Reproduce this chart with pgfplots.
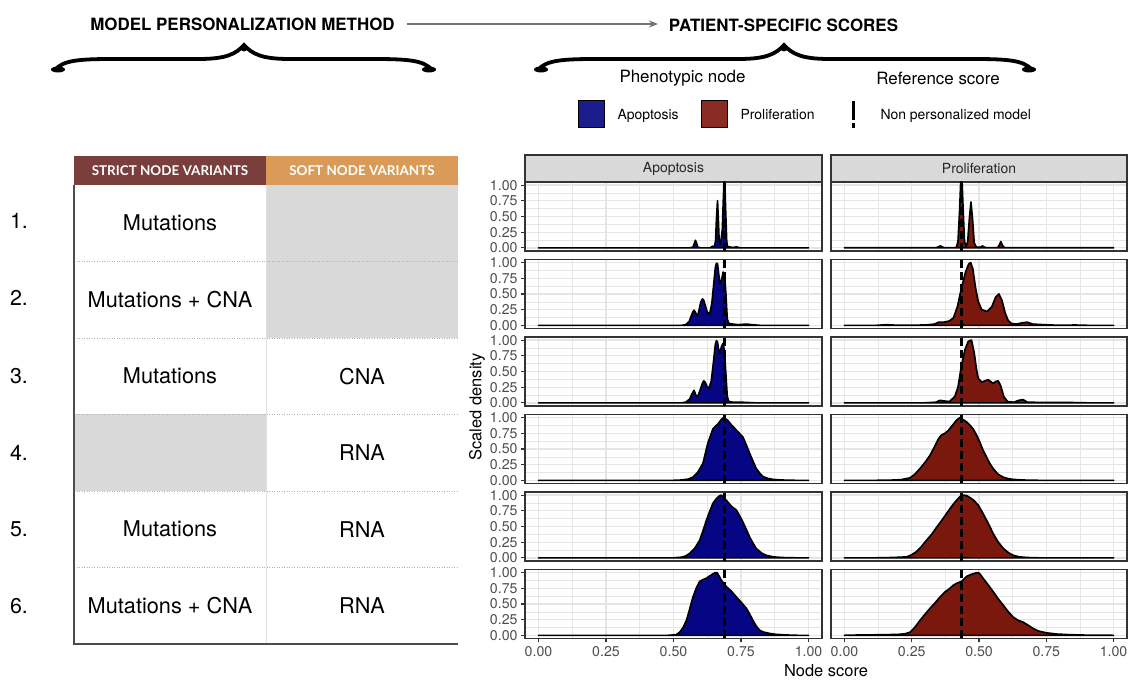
\documentclass[border=0pt]{standalone}
\usepackage{pgfplots}
\pgfplotsset{compat=1.18}
\usepackage{fontspec}
\setmainfont{TeX Gyre Heros}
\newfontfamily\hdrfont{Lato}
\usetikzlibrary{arrows.meta}

\definecolor{apo}{RGB}{6,6,132}
\definecolor{pro}{RGB}{122,24,14}
\definecolor{apoKey}{RGB}{28,28,142}
\definecolor{proKey}{RGB}{139,44,36}
\definecolor{gtwenty}{RGB}{51,51,51}
\definecolor{gthirty}{RGB}{77,77,77}
\definecolor{stripbg}{RGB}{217,217,217}
\definecolor{gridc}{RGB}{229,229,229}
\definecolor{strictc}{RGB}{122,62,60}
\definecolor{softc}{RGB}{218,155,88}
\definecolor{cellgray}{RGB}{217,217,217}

\pgfplotsset{
 panel/.style={
  scale only axis, height=69bp, anchor=north west,
  xmin=-0.05,xmax=1.05,ymin=-0.05,ymax=1.05,
  xtick={0,0.25,0.5,0.75,1}, ytick={0,0.25,0.5,0.75,1},
  minor xtick={0.125,0.375,0.625,0.875}, minor ytick={0.125,0.375,0.625,0.875},
  grid=both,
  major grid style={draw=gridc,line width=1.3bp},
  minor grid style={draw=gridc,line width=0.65bp},
  axis line style={draw=gtwenty,line width=1.3bp},
  tick align=outside, major tick length=4bp, minor tick length=0pt,
  tick style={draw=gtwenty,line width=1.1bp},
  tick pos=left,
  xticklabels={}, yticklabels={},
  xmajorticks=false, ymajorticks=false,
  ticklabel style={font=\fontsize{14.2}{15}\selectfont, text=gthirty},
 },
 L/.style={panel, width=297bp, ymajorticks=true, yticklabels={0.00,0.25,0.50,0.75,1.00}},
 R/.style={panel, width=296bp},
 B/.style={xmajorticks=true, xticklabels={0.00,0.25,0.50,0.75,1.00}},
 dens/.style={draw=black, line width=1.7bp, line join=round},
 ref/.style={draw=black, line width=3.2bp, dash pattern=on 8bp off 4bp},
}

\begin{document}
\begin{tikzpicture}[x=1bp,y=1bp]
\useasboundingbox (0,0) rectangle (1130,680);

% ---------- titles ----------
\node[font=\bfseries\fontsize{17}{20}\selectfont] at (242.5,656) {MODEL PERSONALIZATION METHOD};
\node[font=\bfseries\fontsize{17}{20}\selectfont] at (783.5,655) {PATIENT-SPECIFIC SCORES};
\draw[draw=black!55, line width=1.6bp, -{Stealth[length=9bp,width=7bp]}] (407,656) -- (658,656);

% braces
\foreach \a/\m/\b in {55/244/432, 538/784/1032}{
 \draw[line width=3.8bp, line cap=round]
   (\a,610) .. controls (\a+8,620) and (\a+25,621) .. (\a+60,621)
   -- (\m-45,621) .. controls (\m-18,621) and (\m-8,626) .. (\m,635)
   .. controls (\m+8,626) and (\m+18,621) .. (\m+45,621)
   -- (\b-60,621) .. controls (\b-25,621) and (\b-8,620) .. (\b,610);
 \fill (\a+3,610.5) ellipse (7 and 3);
 \fill (\b-3,610.5) ellipse (7 and 3);
 \fill (\m,632) circle (3.5);
}

% ---------- legend ----------
\node[font=\fontsize{17}{20}\selectfont] at (682.5,602) {Phenotypic node};
\node[font=\fontsize{17}{20}\selectfont] at (938,602) {Reference score};
\filldraw[fill=apoKey, draw=black, line width=1bp] (578,552) rectangle (604.5,579);
\filldraw[fill=proKey, draw=black, line width=1bp] (701,552) rectangle (727.5,579);
\node[anchor=base west, font=\fontsize{14}{16}\selectfont] at (614,560) {Apoptosis};
\node[anchor=base west, font=\fontsize{14}{16}\selectfont] at (737,560) {Proliferation};
\draw[line width=3.2bp, dash pattern=on 19bp off 3bp] (853.5,579) -- (853.5,552);
\node[anchor=base west, font=\fontsize{14}{16}\selectfont] at (877,560) {Non personalized model};

% ---------- table ----------
\fill[strictc] (74,495) rectangle (266,524);
\fill[softc] (266,495) rectangle (458,524);
\node[text=white, font=\hdrfont\bfseries\fontsize{13.5}{14}\selectfont] at (170,509) {STRICT NODE VARIANTS};
\node[text=white, font=\hdrfont\bfseries\fontsize{13.5}{14}\selectfont] at (362,509) {SOFT NODE VARIANTS};
% gray cells
\fill[cellgray] (266,495) rectangle (458,342);
\fill[cellgray] (74,265.5) rectangle (266,189);
% separators
\foreach \yy in {418.5,342,265.5,189,112.5}{
 \draw[draw=black!30, line width=0.8bp, dash pattern=on 1bp off 1.5bp] (74,\yy) -- (458,\yy);
}
\draw[draw=black!12, line width=1bp] (266,495) -- (266,36);
\draw[draw=black!70, line width=1.3bp] (74,495) -- (74,36) -- (458,36);
% row numbers and content
\foreach \n/\yy in {1/459,2/382,3/304,4/227.25,5/150.75,6/74.25}{
 \node[font=\fontsize{21.5}{24}\selectfont] at (19,\yy) {\n.};
}
\node[font=\fontsize{21.8}{24}\selectfont] at (170,457) {Mutations};
\node[font=\fontsize{21.8}{24}\selectfont] at (170,380.25) {Mutations + CNA};
\node[font=\fontsize{21.8}{24}\selectfont] at (170,303.75) {Mutations};
\node[font=\fontsize{21.8}{24}\selectfont] at (362,303.75) {CNA};
\node[font=\fontsize{21.8}{24}\selectfont] at (362,227.25) {RNA};
\node[font=\fontsize{21.8}{24}\selectfont] at (170,150.75) {Mutations};
\node[font=\fontsize{21.8}{24}\selectfont] at (362,150.75) {RNA};
\node[font=\fontsize{21.8}{24}\selectfont] at (170,74.25) {Mutations + CNA};
\node[font=\fontsize{21.8}{24}\selectfont] at (362,74.25) {RNA};

% ---------- strips ----------
\filldraw[fill=stripbg, draw=gtwenty, line width=1.2bp] (525,498) rectangle (822,525);
\filldraw[fill=stripbg, draw=gtwenty, line width=1.2bp] (831,498) rectangle (1127,525);
\node[font=\fontsize{14}{16}\selectfont, text=black!85] at (673.5,511.5) {Apoptosis};
\node[font=\fontsize{14}{16}\selectfont, text=black!85] at (979,511.5) {Proliferation};

% axis titles
\node[font=\fontsize{16.5}{18}\selectfont] at (826,9) {Node score};
\node[font=\fontsize{16.5}{18}\selectfont, rotate=90] at (477,273) {Scaled density};

% ================= panels =================
% Row 1
\begin{axis}[L, at={(525bp,498bp)}]
\addplot[dens, fill=apo] coordinates {(0,0)(0.56,0)(0.572,0.01)(0.578,0.08)(0.581,0.12)(0.585,0.08)(0.59,0.01)(0.60,0)(0.635,0)(0.645,0.025)(0.652,0.02)(0.656,0.12)(0.659,0.45)(0.663,0.75)(0.666,0.45)(0.669,0.1)(0.672,0.05)(0.677,0.15)(0.681,0.3)(0.684,0.7)(0.687,1.05)(0.690,1.05)(0.693,0.6)(0.697,0.1)(0.70,0.02)(0.72,0.005)(0.733,0.015)(0.745,0)(1,0)} -- cycle;
\addplot[ref] coordinates {(0.689,-0.05)(0.689,1.05)};
\end{axis}
\begin{axis}[R, at={(831bp,498bp)}]
\addplot[dens, fill=pro] coordinates {(0,0)(0.34,0)(0.357,0.03)(0.37,0)(0.415,0)(0.422,0.1)(0.428,0.6)(0.432,1.05)(0.437,1.05)(0.441,0.6)(0.446,0.1)(0.452,0.02)(0.458,0.1)(0.464,0.45)(0.470,0.73)(0.476,0.45)(0.482,0.08)(0.49,0.01)(0.505,0.01)(0.513,0.03)(0.52,0.01)(0.53,0)(0.568,0)(0.575,0.04)(0.581,0.1)(0.587,0.04)(0.595,0)(1,0)} -- cycle;
\addplot[ref] coordinates {(0.435,-0.05)(0.435,1.05)};
\end{axis}
% Row 2
\begin{axis}[L, at={(525bp,420.5bp)}]
\addplot[dens, fill=apo] coordinates {(0,0)(0.53,0)(0.545,0.01)(0.558,0.06)(0.565,0.14)(0.571,0.21)(0.576,0.24)(0.581,0.21)(0.586,0.16)(0.59,0.16)(0.595,0.25)(0.601,0.37)(0.607,0.42)(0.612,0.4)(0.618,0.31)(0.625,0.21)(0.63,0.18)(0.636,0.22)(0.642,0.35)(0.650,0.7)(0.655,0.92)(0.659,0.99)(0.663,0.98)(0.667,0.83)(0.672,0.66)(0.678,0.72)(0.684,0.85)(0.689,0.8)(0.694,0.5)(0.699,0.1)(0.705,0.03)(0.72,0.02)(0.74,0.01)(0.77,0.02)(0.79,0.01)(0.82,0)(1,0)} -- cycle;
\addplot[ref] coordinates {(0.689,-0.05)(0.689,1.05)};
\end{axis}
\begin{axis}[R, at={(831bp,420.5bp)}]
\addplot[dens, fill=pro] coordinates {(0,0)(0.12,0)(0.157,0.01)(0.2,0)(0.3,0.005)(0.335,0.02)(0.35,0.05)(0.37,0.05)(0.39,0.07)(0.405,0.12)(0.42,0.3)(0.435,0.6)(0.45,0.85)(0.462,0.98)(0.469,1.0)(0.477,0.9)(0.487,0.6)(0.497,0.38)(0.51,0.25)(0.53,0.22)(0.548,0.3)(0.562,0.45)(0.574,0.5)(0.585,0.4)(0.597,0.2)(0.608,0.08)(0.62,0.03)(0.64,0.02)(0.66,0.04)(0.679,0.05)(0.70,0.02)(0.74,0.01)(0.80,0)(0.856,0.005)(0.9,0)(1,0)} -- cycle;
\addplot[ref] coordinates {(0.435,-0.05)(0.435,1.05)};
\end{axis}
% Row 3
\begin{axis}[L, at={(525bp,343bp)}]
\addplot[dens, fill=apo] coordinates {(0,0)(0.53,0)(0.545,0.01)(0.56,0.06)(0.568,0.14)(0.576,0.2)(0.583,0.12)(0.59,0.1)(0.60,0.22)(0.607,0.31)(0.612,0.35)(0.617,0.33)(0.624,0.26)(0.631,0.23)(0.64,0.35)(0.648,0.65)(0.655,0.93)(0.659,0.99)(0.663,0.97)(0.667,0.85)(0.671,0.78)(0.678,0.9)(0.684,0.95)(0.689,0.8)(0.694,0.45)(0.699,0.1)(0.705,0.02)(0.72,0.01)(0.75,0.01)(0.8,0)(1,0)} -- cycle;
\addplot[ref] coordinates {(0.689,-0.05)(0.689,1.05)};
\end{axis}
\begin{axis}[R, at={(831bp,343bp)}]
\addplot[dens, fill=pro] coordinates {(0,0)(0.3,0)(0.34,0.01)(0.355,0.04)(0.37,0.03)(0.39,0.02)(0.41,0.1)(0.422,0.25)(0.435,0.6)(0.448,0.85)(0.46,0.98)(0.472,1.0)(0.482,0.8)(0.49,0.55)(0.497,0.39)(0.51,0.33)(0.522,0.35)(0.534,0.37)(0.552,0.31)(0.562,0.34)(0.571,0.35)(0.58,0.28)(0.592,0.1)(0.606,0.02)(0.63,0.01)(0.648,0.04)(0.664,0.05)(0.68,0.01)(0.75,0.005)(0.84,0.005)(0.9,0)(1,0)} -- cycle;
\addplot[ref] coordinates {(0.435,-0.05)(0.435,1.05)};
\end{axis}
% Row 4
\begin{axis}[L, at={(525bp,265.5bp)}]
\addplot[dens, fill=apo] coordinates {(0,0)(0.50,0)(0.53,0.005)(0.555,0.02)(0.572,0.05)(0.59,0.13)(0.609,0.27)(0.627,0.59)(0.646,0.82)(0.665,0.9)(0.677,0.97)(0.685,1.0)(0.70,0.96)(0.715,0.88)(0.733,0.8)(0.757,0.69)(0.77,0.56)(0.782,0.43)(0.795,0.3)(0.806,0.19)(0.82,0.11)(0.831,0.06)(0.85,0.03)(0.868,0.015)(0.9,0.005)(0.95,0)(1,0)} -- cycle;
\addplot[ref] coordinates {(0.689,-0.05)(0.689,1.05)};
\end{axis}
\begin{axis}[R, at={(831bp,265.5bp)}]
\addplot[dens, fill=pro] coordinates {(0,0)(0.12,0)(0.17,0.003)(0.21,0.01)(0.244,0.04)(0.262,0.1)(0.281,0.19)(0.30,0.29)(0.318,0.4)(0.334,0.53)(0.349,0.66)(0.36,0.72)(0.373,0.75)(0.385,0.79)(0.40,0.87)(0.417,0.96)(0.429,1.0)(0.44,0.97)(0.454,0.93)(0.466,0.88)(0.478,0.82)(0.49,0.73)(0.503,0.61)(0.515,0.48)(0.528,0.37)(0.54,0.27)(0.552,0.19)(0.57,0.1)(0.59,0.05)(0.61,0.025)(0.627,0.015)(0.66,0.005)(0.72,0)(1,0)} -- cycle;
\addplot[ref] coordinates {(0.435,-0.05)(0.435,1.05)};
\end{axis}
% Row 5
\begin{axis}[L, at={(525bp,188bp)}]
\addplot[dens, fill=apo] coordinates {(0,0)(0.50,0)(0.53,0.01)(0.545,0.03)(0.56,0.07)(0.58,0.16)(0.597,0.28)(0.61,0.44)(0.622,0.6)(0.635,0.75)(0.646,0.87)(0.66,0.95)(0.671,0.99)(0.677,1.0)(0.688,0.95)(0.701,0.89)(0.715,0.82)(0.733,0.76)(0.745,0.67)(0.757,0.57)(0.77,0.45)(0.782,0.33)(0.795,0.23)(0.806,0.15)(0.825,0.08)(0.843,0.04)(0.87,0.015)(0.9,0.005)(0.95,0)(1,0)} -- cycle;
\addplot[ref] coordinates {(0.689,-0.05)(0.689,1.05)};
\end{axis}
\begin{axis}[R, at={(831bp,188bp)}]
\addplot[dens, fill=pro] coordinates {(0,0)(0.12,0)(0.18,0.005)(0.231,0.015)(0.25,0.05)(0.268,0.1)(0.286,0.18)(0.305,0.28)(0.325,0.38)(0.343,0.49)(0.362,0.6)(0.380,0.71)(0.40,0.83)(0.417,0.92)(0.43,0.98)(0.441,1.0)(0.455,0.99)(0.466,0.96)(0.48,0.92)(0.497,0.84)(0.512,0.73)(0.528,0.6)(0.54,0.5)(0.552,0.39)(0.57,0.26)(0.59,0.15)(0.61,0.08)(0.627,0.04)(0.65,0.015)(0.68,0.005)(0.72,0)(1,0)} -- cycle;
\addplot[ref] coordinates {(0.435,-0.05)(0.435,1.05)};
\end{axis}
% Row 6
\begin{axis}[L, B, at={(525bp,110.5bp)}]
\addplot[dens, fill=apo] coordinates {(0,0)(0.48,0)(0.51,0.01)(0.523,0.05)(0.535,0.12)(0.548,0.24)(0.56,0.42)(0.572,0.61)(0.585,0.76)(0.597,0.86)(0.61,0.89)(0.622,0.91)(0.635,0.95)(0.646,0.98)(0.655,1.0)(0.661,1.0)(0.668,0.95)(0.677,0.88)(0.695,0.78)(0.715,0.7)(0.733,0.61)(0.752,0.52)(0.770,0.43)(0.782,0.34)(0.794,0.24)(0.806,0.15)(0.819,0.08)(0.835,0.05)(0.856,0.03)(0.88,0.015)(0.92,0.005)(0.96,0)(1,0)} -- cycle;
\addplot[ref] coordinates {(0.689,-0.05)(0.689,1.05)};
\end{axis}
\begin{axis}[R, B, at={(831bp,110.5bp)}]
\addplot[dens, fill=pro] coordinates {(0,0)(0.05,0.005)(0.15,0.01)(0.2,0.015)(0.225,0.025)(0.244,0.05)(0.262,0.13)(0.281,0.24)(0.30,0.34)(0.318,0.43)(0.337,0.52)(0.355,0.61)(0.373,0.69)(0.392,0.75)(0.405,0.8)(0.417,0.83)(0.435,0.86)(0.445,0.9)(0.454,0.94)(0.47,0.97)(0.484,0.99)(0.497,1.0)(0.505,0.97)(0.515,0.91)(0.533,0.81)(0.552,0.7)(0.57,0.59)(0.59,0.48)(0.608,0.38)(0.627,0.29)(0.645,0.24)(0.664,0.21)(0.683,0.16)(0.701,0.11)(0.72,0.07)(0.75,0.04)(0.79,0.02)(0.837,0.01)(0.9,0.003)(1,0)} -- cycle;
\addplot[ref] coordinates {(0.435,-0.05)(0.435,1.05)};
\end{axis}

\end{tikzpicture}
\end{document}
